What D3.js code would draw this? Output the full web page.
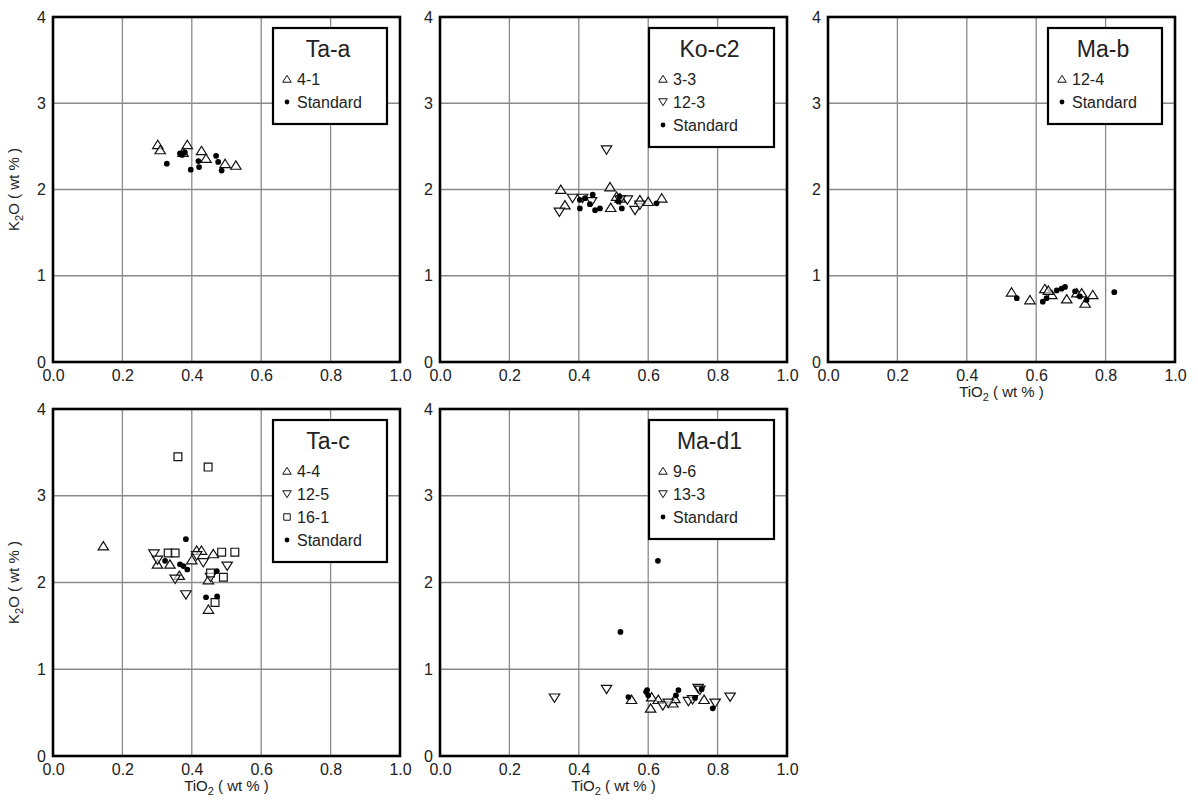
<!DOCTYPE html>
<html>
<head>
<meta charset="utf-8">
<title>K2O vs TiO2</title>
<script src="https://d3js.org/d3.v7.min.js"></script>
<style>
  body { margin: 0; background: #fff; }
  text { font-family: "Liberation Sans", Arial, sans-serif; fill: #222; }
</style>
</head>
<body>
<svg width="1198" height="807"></svg>
<script>
// ---- data (TiO2 wt%, K2O wt%) ----
var xTicks = [0.0, 0.2, 0.4, 0.6, 0.8, 1.0];
var yTicks = [0, 1, 2, 3, 4];

var taA_41 = [[0.302,2.52],[0.309,2.46],[0.387,2.52],[0.375,2.43],[0.428,2.45],[0.441,2.36],[0.496,2.30],[0.527,2.28]];
var taA_std = [[0.328,2.30],[0.366,2.42],[0.380,2.43],[0.372,2.40],[0.397,2.23],[0.419,2.33],[0.421,2.26],[0.470,2.39],[0.476,2.32],[0.486,2.22]];

var koC2_33 = [[0.348,2.00],[0.490,2.03],[0.360,1.82],[0.492,1.79],[0.519,1.90],[0.576,1.88],[0.600,1.86],[0.639,1.90],[0.509,1.92]];
var koC2_123 = [[0.480,2.46],[0.344,1.74],[0.382,1.90],[0.411,1.90],[0.437,1.86],[0.540,1.88],[0.562,1.76],[0.576,1.82],[0.519,1.88]];
var koC2_std = [[0.403,1.88],[0.403,1.78],[0.418,1.90],[0.432,1.83],[0.440,1.94],[0.447,1.76],[0.461,1.78],[0.514,1.86],[0.524,1.78],[0.517,1.92],[0.624,1.84]];

var maB_124 = [[0.529,0.81],[0.582,0.72],[0.625,0.85],[0.645,0.78],[0.688,0.73],[0.717,0.80],[0.731,0.80],[0.741,0.68],[0.763,0.78],[0.635,0.83]];
var maB_std = [[0.544,0.74],[0.619,0.70],[0.630,0.74],[0.659,0.83],[0.673,0.85],[0.683,0.87],[0.712,0.82],[0.726,0.76],[0.745,0.72],[0.825,0.81]];

var taC_44 = [[0.145,2.42],[0.301,2.21],[0.337,2.21],[0.364,2.08],[0.414,2.37],[0.428,2.37],[0.400,2.26],[0.462,2.33],[0.448,2.03],[0.448,1.69]];
var taC_125 = [[0.291,2.33],[0.301,2.26],[0.352,2.04],[0.383,1.86],[0.414,2.31],[0.433,2.23],[0.454,2.06],[0.502,2.19]];
var taC_161 = [[0.360,3.45],[0.447,3.33],[0.332,2.34],[0.352,2.34],[0.454,2.11],[0.467,1.77],[0.486,2.35],[0.524,2.35],[0.491,2.06]];
var taC_std = [[0.383,2.50],[0.323,2.25],[0.366,2.21],[0.376,2.19],[0.387,2.15],[0.472,2.13],[0.441,1.83],[0.473,1.84]];

var maD1_96 = [[0.552,0.65],[0.610,0.68],[0.629,0.65],[0.607,0.55],[0.671,0.61],[0.677,0.66],[0.761,0.65]];
var maD1_133 = [[0.330,0.67],[0.480,0.77],[0.642,0.58],[0.658,0.61],[0.716,0.63],[0.728,0.65],[0.744,0.78],[0.749,0.76],[0.793,0.61],[0.836,0.68]];
var maD1_std = [[0.520,1.43],[0.628,2.25],[0.543,0.68],[0.594,0.74],[0.600,0.70],[0.597,0.76],[0.687,0.76],[0.680,0.70],[0.754,0.77],[0.735,0.67],[0.786,0.55]];

var panels = [
  { title: "Ta-a", col: 0, row: 0, lw: 114, series: [["up","4-1",taA_41],["dot","Standard",taA_std]], xLab: false, yLab: true },
  { title: "Ko-c2", col: 1, row: 0, lw: 125, series: [["up","3-3",koC2_33],["down","12-3",koC2_123],["dot","Standard",koC2_std]], xLab: false, yLab: false },
  { title: "Ma-b", col: 2, row: 0, lw: 114, series: [["up","12-4",maB_124],["dot","Standard",maB_std]], xLab: true, yLab: false },
  { title: "Ta-c", col: 0, row: 1, lw: 114, series: [["up","4-4",taC_44],["down","12-5",taC_125],["square","16-1",taC_161],["dot","Standard",taC_std]], xLab: true, yLab: true },
  { title: "Ma-d1", col: 1, row: 1, lw: 125, series: [["up","9-6",maD1_96],["down","13-3",maD1_133],["dot","Standard",maD1_std]], xLab: true, yLab: false }
];

// ---- layout ----
var svg = d3.select("svg");
var colX = [53, 440, 828], rowY = [17, 409];
var pw = 347, ph = [345, 347];

function markerPath(type, s) {
  if (type === "up") return "M0," + (-s*0.85) + "L" + s + "," + (s*0.75) + "L" + (-s) + "," + (s*0.75) + "Z";
  if (type === "down") return "M0," + (s*0.85) + "L" + s + "," + (-s*0.75) + "L" + (-s) + "," + (-s*0.75) + "Z";
  if (type === "square") return "M" + (-s*0.75) + "," + (-s*0.75) + "h" + (s*1.5) + "v" + (s*1.5) + "h" + (-s*1.5) + "Z";
  return null;
}

function drawMark(g, type, s) {
  if (type === "dot") {
    g.append("circle").attr("r", s * 0.55).attr("fill", "#000");
  } else {
    g.append("path").attr("d", markerPath(type, s))
      .attr("fill", "#fff").attr("fill-opacity", 0.6).attr("stroke", "#111").attr("stroke-width", 1.2);
  }
}

panels.forEach(function(p) {
  var x0 = colX[p.col], y0 = rowY[p.row], h = ph[p.row];
  var x = d3.scaleLinear().domain([0, 1]).range([x0, x0 + pw]);
  var y = d3.scaleLinear().domain([0, 4]).range([y0 + h, y0]);
  var g = svg.append("g");

  // grid
  g.selectAll(".gx").data(xTicks.slice(1, -1)).enter().append("line")
    .attr("x1", function(d) { return x(d); }).attr("x2", function(d) { return x(d); })
    .attr("y1", y0).attr("y2", y0 + h).attr("stroke", "#8a8a8a").attr("stroke-width", 1.3);
  g.selectAll(".gy").data(yTicks.slice(1, -1)).enter().append("line")
    .attr("y1", function(d) { return y(d); }).attr("y2", function(d) { return y(d); })
    .attr("x1", x0).attr("x2", x0 + pw).attr("stroke", "#8a8a8a").attr("stroke-width", 1.3);

  // axes (labels only)
  var xa = g.append("g").attr("transform", "translate(0," + (y0 + h) + ")")
    .call(d3.axisBottom(x).tickValues(xTicks).tickFormat(d3.format(".1f")).tickSize(0).tickPadding(8));
  var ya = g.append("g").attr("transform", "translate(" + x0 + ",0)")
    .call(d3.axisLeft(y).tickValues(yTicks).tickFormat(d3.format("d")).tickSize(0).tickPadding(7));
  [xa, ya].forEach(function(a) {
    a.select(".domain").remove();
    a.selectAll("text").style("font-size", "16px").style("font-family", "Liberation Sans, Arial, sans-serif").attr("fill", "#222");
  });

  // points
  p.series.forEach(function(s) {
    var pts = g.selectAll(null).data(s[2]).enter().append("g")
      .attr("transform", function(d) { return "translate(" + x(d[0]) + "," + y(d[1]) + ")"; });
    pts.each(function() { drawMark(d3.select(this), s[0], 5.2); });
  });

  // frame
  g.append("rect").attr("x", x0).attr("y", y0).attr("width", pw).attr("height", h)
    .attr("fill", "none").attr("stroke", "#000").attr("stroke-width", 2.6);

  // legend
  var lh = 50 + p.series.length * 23;
  var lx = x0 + pw - 13 - p.lw, ly = y0 + 11;
  var lg = g.append("g").attr("transform", "translate(" + lx + "," + ly + ")");
  lg.append("rect").attr("width", p.lw).attr("height", lh).attr("fill", "#fff")
    .attr("stroke", "#000").attr("stroke-width", 2.2);
  lg.append("text").attr("x", p.lw / 2 - 2).attr("y", 29).attr("text-anchor", "middle")
    .style("font-size", "23px").text(p.title);
  p.series.forEach(function(s, i) {
    var row = lg.append("g").attr("transform", "translate(14," + (51 + i * 23) + ")");
    var m = row.append("g");
    if (s[0] === "dot") m.append("circle").attr("r", 2.4).attr("fill", "#000");
    else m.append("path").attr("d", markerPath(s[0], 4.3)).attr("fill", "#fff").attr("stroke", "#111").attr("stroke-width", 1);
    row.append("text").attr("x", 10).attr("y", 6).style("font-size", "16px").text(s[1]);
  });

  // axis titles
  if (p.xLab) {
    var t = g.append("text").attr("x", x0 + pw / 2).attr("y", y0 + h + 35)
      .attr("text-anchor", "middle").style("font-size", "15px");
    t.append("tspan").text("TiO");
    t.append("tspan").attr("dy", 4).style("font-size", "11px").text("2");
    t.append("tspan").attr("dy", -4).text(" ( wt % )");
  }
  if (p.yLab) {
    var yt = g.append("text").attr("transform", "translate(19," + (y0 + h / 2) + ") rotate(-90)")
      .attr("text-anchor", "middle").style("font-size", "15px");
    yt.append("tspan").text("K");
    yt.append("tspan").attr("dy", 4).style("font-size", "11px").text("2");
    yt.append("tspan").attr("dy", -4).text("O ( wt % )");
  }
});
</script>
</body>
</html>
